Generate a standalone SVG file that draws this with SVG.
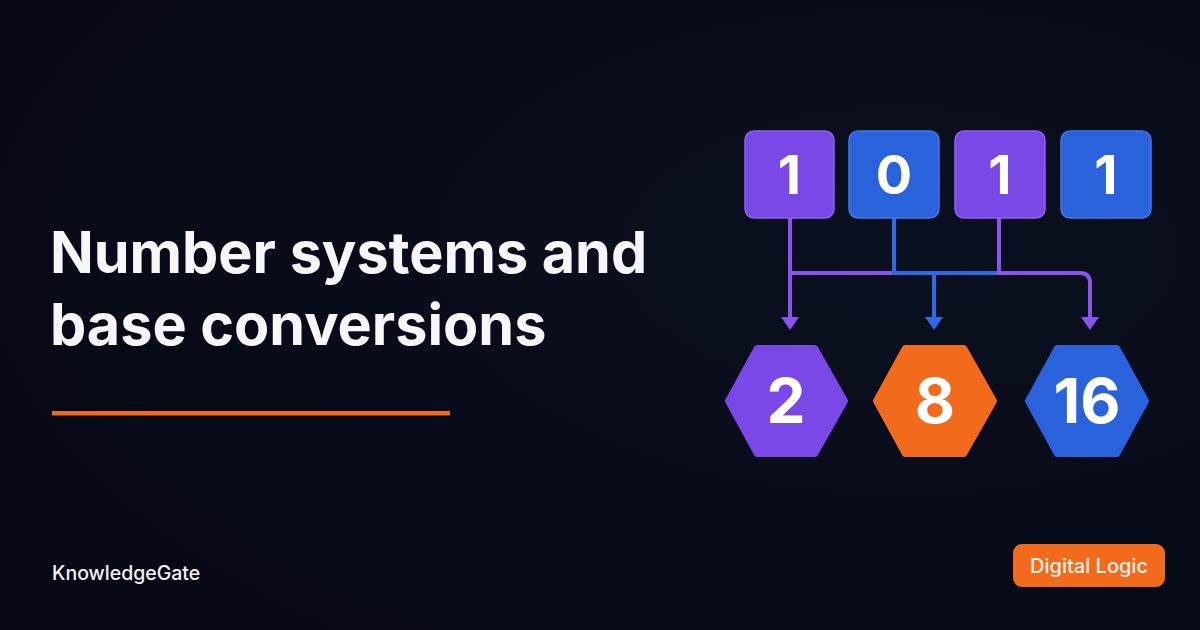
<svg xmlns="http://www.w3.org/2000/svg" width="1200" height="630" viewBox="0 0 1200 630">
  <defs>
    <radialGradient id="bg" cx="0.75" cy="0.4" r="0.8">
      <stop offset="0" stop-color="#0b1020"/>
      <stop offset="1" stop-color="#060915"/>
    </radialGradient>
    <style>
      .title{font-family:Inter,"Liberation Sans",sans-serif;font-weight:700;font-size:57.5px;fill:#f7f7f9}
      .digit{font-family:Inter,"Liberation Sans",sans-serif;font-weight:700;font-size:54px;fill:#ffffff;text-anchor:middle}
      .base{font-family:Inter,"Liberation Sans",sans-serif;font-weight:700;font-size:62px;fill:#ffffff;text-anchor:middle}
      .purple{fill:#7a48e6;stroke:#8e62f0;stroke-width:1.5}
      .blue{fill:#2a62dc;stroke:#4178ea;stroke-width:1.5}
      .hex-p{fill:#7a48e6;stroke:#7a48e6;stroke-width:6;stroke-linejoin:round}
      .hex-o{fill:#f26a1c;stroke:#f26a1c;stroke-width:6;stroke-linejoin:round}
      .hex-b{fill:#2a62dc;stroke:#2a62dc;stroke-width:6;stroke-linejoin:round}
      .lp{fill:none;stroke:#8a55ee;stroke-width:4}
      .lb{fill:none;stroke:#2f6ae6;stroke-width:4}
      .ap{fill:#8a55ee}
      .ab{fill:#2f6ae6}
    </style>
  </defs>
  <rect width="1200" height="630" fill="url(#bg)"/>

  <text class="title" x="50" y="273">Number systems and</text>
  <text class="title" x="50" y="345">base conversions</text>
  <rect x="52" y="411" width="398" height="4.5" fill="#f26a1c"/>

  <text x="52" y="580" font-family="Inter,'Liberation Sans',sans-serif" font-weight="500" font-size="19.5" fill="#f2f2f4">KnowledgeGate</text>

  <g id="badge">
    <rect x="1013" y="544" width="152" height="43" rx="9" fill="#f26a1c"/>
    <text x="1089" y="573" text-anchor="middle" font-family="Inter,'Liberation Sans',sans-serif" font-weight="500" font-size="20" fill="#fff3ea">Digital Logic</text>
  </g>

  <g id="connectors">
    <path class="lp" d="M790 218 V318"/>
    <path class="lp" d="M790 273 H894"/>
    <path class="lb" d="M894 218 V273 H999"/>
    <path class="lb" d="M934 273 V318"/>
    <path class="lp" d="M999 218 V273 H1080 Q1090 273 1090 283 V318"/>
    <polygon class="ap" points="781,317 799,317 790,330"/>
    <polygon class="ab" points="925,317 943,317 934,330"/>
    <polygon class="ap" points="1081,317 1099,317 1090,330"/>
  </g>

  <g id="bit1">
    <rect class="purple" x="745" y="131" width="89" height="87" rx="9"/>
    <text class="digit" x="789.5" y="194">1</text>
  </g>
  <g id="bit2">
    <rect class="blue" x="849" y="131" width="90" height="87" rx="9"/>
    <text class="digit" x="894" y="194">0</text>
  </g>
  <g id="bit3">
    <rect class="purple" x="955" y="131" width="90" height="87" rx="9"/>
    <text class="digit" x="1000" y="194">1</text>
  </g>
  <g id="bit4">
    <rect class="blue" x="1061" y="131" width="90" height="87" rx="9"/>
    <text class="digit" x="1106" y="194">1</text>
  </g>

  <g id="base2">
    <polygon class="hex-p" points="728,401 757,348 815,348 845,401 815,454 757,454"/>
    <text class="base" x="786" y="423">2</text>
  </g>
  <g id="base8">
    <polygon class="hex-o" points="876,401 905,348 964,348 994,401 964,454 905,454"/>
    <text class="base" x="935" y="423">8</text>
  </g>
  <g id="base16">
    <polygon class="hex-b" points="1028,401 1057,348 1117,348 1146,401 1117,454 1057,454"/>
    <text class="base" x="1087" y="423">16</text>
  </g>
</svg>
